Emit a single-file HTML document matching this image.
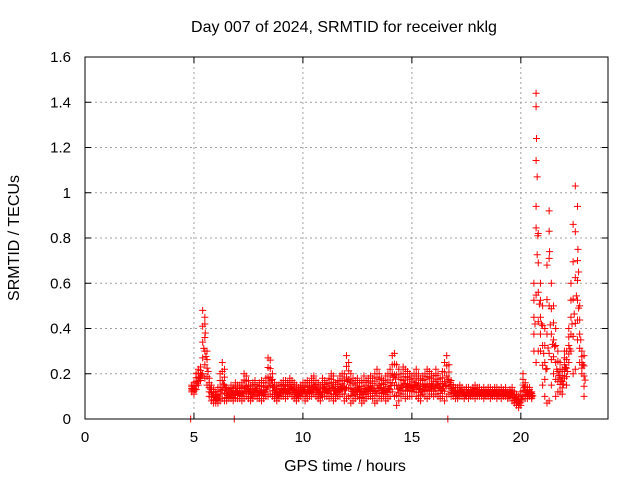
<!DOCTYPE html>
<html><head><meta charset="utf-8"><style>
body{margin:0;background:#fff}
svg{display:block;font-family:"Liberation Sans",sans-serif;font-size:15px}
</style></head><body>
<svg id="chart" width="640" height="480">
<rect width="640" height="480" fill="#fff"/>
<text x="344" y="32" text-anchor="middle" font-size="16">Day 007 of 2024, SRMTID for receiver nklg</text>
<text x="345" y="471" text-anchor="middle" font-size="16">GPS time / hours</text>
<text transform="translate(19,238) rotate(-90)" text-anchor="middle" font-size="16">SRMTID / TECUs</text>
<g id="grid"></g><g id="ticks"></g><g id="marks"></g>
<rect x="85" y="57" width="523" height="362" fill="none" stroke="#000" stroke-width="1"/>
</svg>
<script>
const xTicks=[0,5,10,15,20];
const yTicks=[0,0.2,0.4,0.6,0.8,1,1.2,1.4,1.6];
const yTickLabels=["0","0.2","0.4","0.6","0.8","1","1.2","1.4","1.6"];
const tStart=4.9, tStep=0.1;
const hiValues=[.15,.16,.2,.22,.23,.48,.42,.3,.18,.15,.13,.12,
.14,.2,.25,.22,.14,.13,.15,.14,.16,.15,
.15,.16,.2,.19,.17,.15,.16,.17,.15,.16,
.17,.16,.18,.27,.26,.2,.16,.15,.15,.16,
.17,.17,.16,.18,.17,.16,.15,.14,.15,.16,
.16,.17,.16,.18,.19,.17,.16,.15,.18,.17,
.16,.18,.2,.19,.16,.17,.19,.2,.2,.28,
.25,.2,.18,.17,.18,.16,.17,.19,.17,.18,
.19,.18,.2,.22,.2,.18,.17,.19,.2,.22,
.28,.29,.24,.22,.2,.23,.22,.21,.2,.19,
.2,.22,.2,.18,.19,.2,.22,.21,.2,.19,
.22,.2,.18,.21,.25,.28,.24,.17,.15,.14,
.14,.15,.14,.13,.14,.14,.13,.14,.15,.14,
.14,.13,.14,.13,.14,.14,.13,.14,.14,.13,
.14,.13,.14,.12,.13,.14,.12,.11,.1,.12,
.2,.16,.14,.14,.12,.6,1.44,.82,.6,.5,
.4,.68,.92,.6,.5,.4,.3,.25,.22,.3,
.3,.4,.6,.86,1.03,.7,.5,.3,.28];
const loValues=[.12,.11,.13,.15,.17,.2,.18,.15,.1,.08,.07,.07,
.07,.08,.09,.08,.08,.09,.09,.08,.09,.09,
.09,.08,.09,.1,.09,.08,.09,.1,.09,.09,
.08,.09,.1,.1,.11,.1,.09,.08,.09,.1,
.1,.09,.1,.11,.1,.09,.08,.09,.1,.1,
.08,.09,.1,.1,.11,.1,.09,.08,.1,.1,
.1,.09,.1,.08,.09,.1,.1,.11,.08,.09,
.1,.07,.08,.09,.1,.09,.07,.08,.09,.1,
.1,.09,.07,.08,.1,.09,.1,.08,.09,.1,
.12,.1,.06,.08,.1,.11,.09,.1,.1,.1,
.12,.1,.09,.08,.11,.1,.09,.1,.11,.1,
.11,.1,.09,.1,.08,.1,.11,.1,.1,.09,
.09,.1,.1,.09,.1,.09,.1,.1,.09,.1,
.1,.1,.09,.1,.1,.09,.1,.1,.09,.1,
.09,.1,.1,.09,.1,.08,.07,.06,.05,.06,
.1,.09,.09,.1,.09,.3,.25,.3,.3,.15,
.1,.07,.08,.15,.2,.1,.12,.12,.11,.18,
.15,.25,.3,.2,.22,.35,.25,.2,.1];
const extraTimes=[20.7,20.72,20.75,20.7,20.78,21.3,21.32,22.6,22.62,22.65,5.5,5.52,4.85,16.65,6.85];
const extraValues=[1.38,1.24,1.07,.94,.81,.83,.74,.94,.75,.65,.45,.38,0,0,0];
const NS="http://www.w3.org/2000/svg";
const X=v=>85+v*523/24, Y=v=>419-v*362/1.6;
const grid=document.getElementById('grid'),ticks=document.getElementById('ticks'),marks=document.getElementById('marks');
function mk(tag,attrs,parent){const e=document.createElementNS(NS,tag);for(const k in attrs)e.setAttribute(k,attrs[k]);parent.appendChild(e);return e;}
xTicks.forEach(t=>{
 const x=X(t);
 if(t>0){const g=mk('line',{x1:x,x2:x,y1:57,y2:419,stroke:'#a0a0a0','stroke-dasharray':'2,3'},grid);
 
 }
 mk('line',{x1:x,x2:x,y1:419,y2:413,stroke:'#000'},ticks);
 mk('line',{x1:x,x2:x,y1:57,y2:63,stroke:'#000'},ticks);
 const l=mk('text',{x:x,y:442,'text-anchor':'middle'},ticks);l.textContent=t;
 
 
});
yTicks.forEach((t,i)=>{
 const y=Y(t);
 if(i>0&&i<yTicks.length-1){const g=mk('line',{x1:85,x2:608,y1:y,y2:y,stroke:'#a0a0a0','stroke-dasharray':'2,3'},grid);
 
 }
 mk('line',{x1:85,x2:91,y1:y,y2:y,stroke:'#000'},ticks);
 mk('line',{x1:608,x2:602,y1:y,y2:y,stroke:'#000'},ticks);
 const l=mk('text',{x:71,y:y+5,'text-anchor':'end'},ticks);l.textContent=yTickLabels[i];
 
 
});
function plus(t,v){
 const x=X(t),y=Y(v);
 const p=mk('path',{d:`M${x-3.5},${y}h7M${x},${y-3.5}v7`,stroke:'#f00','stroke-width':1,fill:'none'},marks);
 
 
}
hiValues.forEach((h,i)=>{
 const t=tStart+i*tStep, lo=loValues[i];
 [0,.25,.5,.75,1].forEach(f=>plus(t,lo+(h-lo)*f));
 plus(t+0.05,lo+(h-lo)*0.4);
});
extraTimes.forEach((t,i)=>plus(t,extraValues[i]));
</script>
</body></html>
